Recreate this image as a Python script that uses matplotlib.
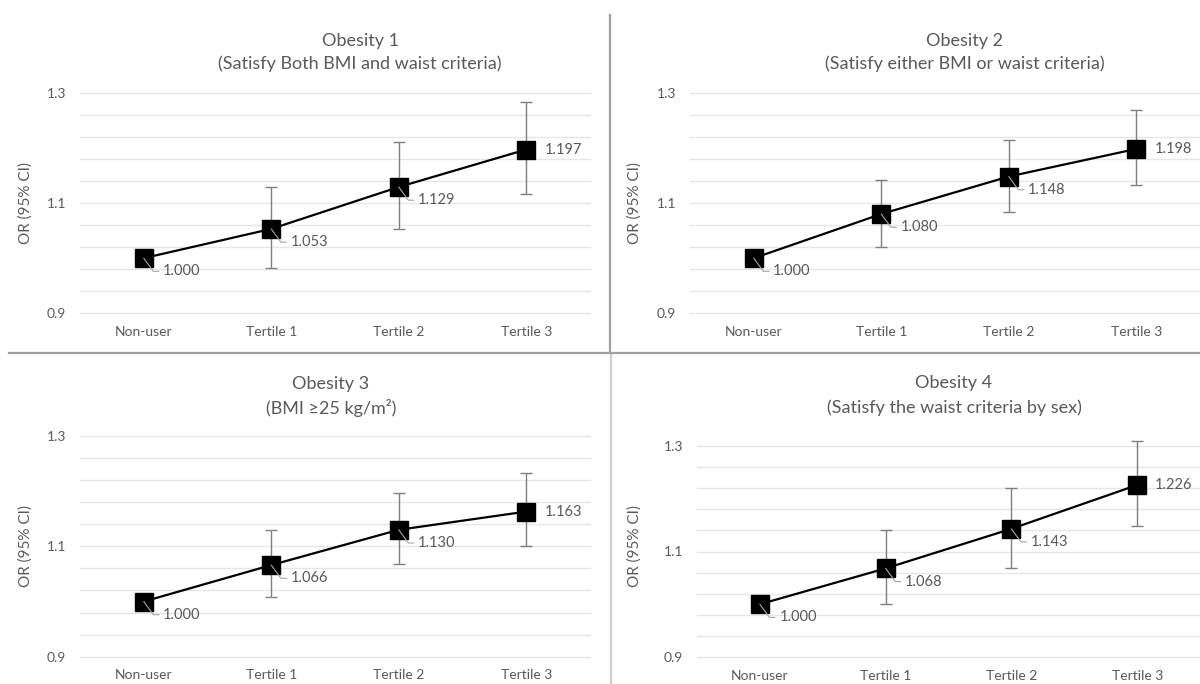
import matplotlib
matplotlib.use("Agg")
import matplotlib.pyplot as plt
from matplotlib.ticker import FixedLocator, FormatStrFormatter
from matplotlib.lines import Line2D
import numpy as np

plt.rcParams['font.family'] = ['Lato', 'DejaVu Sans']

# ---------------- data ----------------
categories = ["Non-user", "Tertile 1", "Tertile 2", "Tertile 3"]

titles = [
    ("Obesity 1", "(Satisfy Both BMI and waist criteria)"),
    ("Obesity 2", "(Satisfy either BMI or waist criteria)"),
    ("Obesity 3", "(BMI \u226525 kg/m\u00b2)"),
    ("Obesity 4", "(Satisfy the waist criteria by sex)"),
]

or_obesity1 = [1.000, 1.053, 1.129, 1.197]
lo_obesity1 = [1.000, 0.982, 1.053, 1.116]
hi_obesity1 = [1.000, 1.129, 1.210, 1.284]

or_obesity2 = [1.000, 1.080, 1.148, 1.198]
lo_obesity2 = [1.000, 1.021, 1.084, 1.132]
hi_obesity2 = [1.000, 1.142, 1.214, 1.269]

or_obesity3 = [1.000, 1.066, 1.130, 1.163]
lo_obesity3 = [1.000, 1.008, 1.068, 1.100]
hi_obesity3 = [1.000, 1.129, 1.197, 1.233]

or_obesity4 = [1.000, 1.068, 1.143, 1.226]
lo_obesity4 = [1.000, 1.000, 1.069, 1.148]
hi_obesity4 = [1.000, 1.140, 1.220, 1.310]

ytick_labels = [0.9, 1.1, 1.3]
grid_step = 0.04
y_label = "OR (95% CI)"

series = [
    (or_obesity1, lo_obesity1, hi_obesity1),
    (or_obesity2, lo_obesity2, hi_obesity2),
    (or_obesity3, lo_obesity3, hi_obesity3),
    (or_obesity4, lo_obesity4, hi_obesity4),
]

# ---------------- layout / style ----------------
W, H = 1200, 684
fig = plt.figure(figsize=(W / 100, H / 100), dpi=100)

def px_rect(x0, x1, ytop, ybot):
    return [x0 / W, 1 - ybot / H, (x1 - x0) / W, (ybot - ytop) / H]

axes_rects = [
    px_rect(80, 590, 92.7, 313.3),
    px_rect(690, 1200, 92.7, 313.3),
    px_rect(80, 590, 436, 656.7),
    px_rect(697, 1200, 446, 657),
]
title_pos = [(360, 41, 64), (965, 41, 64), (331, 384, 408), (954, 383, 408)]
ylabel_pos = [(-0.092, 0.5), (-0.094, 0.5), (-0.092, 0.5), (-0.109, 0.526)]

TXT = "#595959"
GRID = "#e6e6e6"
ERR = "#7f7f7f"
LEAD = "#a6a6a6"

x = np.arange(len(categories))

for i, (rect, (vals, lo, hi)) in enumerate(zip(axes_rects, series)):
    ax = fig.add_axes(rect)
    vals = np.array(vals); lo = np.array(lo); hi = np.array(hi)
    ax.set_xlim(-0.5, len(categories) - 0.5)
    ax.set_ylim(0.9, 1.3)
    for s in ax.spines.values():
        s.set_visible(False)
    ax.yaxis.set_major_locator(FixedLocator(ytick_labels))
    ax.yaxis.set_major_formatter(FormatStrFormatter('%.1f'))
    grid_vals = np.round(np.arange(0.9, 1.3 + 1e-9, grid_step), 2)
    for g in grid_vals:
        ax.axhline(g, color=GRID, lw=1.0, zorder=0, clip_on=False)
    ax.set_xticks(x)
    ax.set_xticklabels(categories)
    ax.tick_params(axis='both', length=0, colors=TXT, labelsize=10)
    ax.tick_params(axis='x', pad=9)
    ax.tick_params(axis='y', pad=10)
    ax.set_ylabel(y_label, color=TXT, fontsize=11)
    ax.yaxis.set_label_coords(*ylabel_pos[i])

    ax.errorbar(x, vals, yerr=[vals - lo, hi - vals], fmt='none', ecolor=ERR,
                elinewidth=1.0, capsize=4, capthick=1.0, zorder=2, clip_on=False)
    ax.plot(x, vals, color='black', lw=1.6, zorder=3, clip_on=False)
    ax.plot(x, vals, ls='none', marker='s', ms=13, mfc='black', mec='black',
            zorder=4, clip_on=False)

    for j, v in enumerate(vals):
        lab = f"{v:.3f}"
        if j == len(vals) - 1:
            ax.annotate(lab, (x[j], v), xytext=(13, 0), textcoords='offset points',
                        ha='left', va='center', color=TXT, fontsize=10.5, zorder=6)
        else:
            ax.annotate(lab, (x[j], v), xytext=(14, -9.5), textcoords='offset points',
                        ha='left', va='center', color=TXT, fontsize=10.5, zorder=6,
                        arrowprops=dict(arrowstyle='-', color=LEAD, lw=0.8,
                                        shrinkA=1, shrinkB=0,
                                        connectionstyle='angle,angleA=0,angleB=-54'))

    tx, ty1, ty2 = title_pos[i]
    fig.text(tx / W, 1 - ty1 / H, titles[i][0], ha='center', va='center',
             color=TXT, fontsize=13)
    fig.text(tx / W, 1 - ty2 / H, titles[i][1], ha='center', va='center',
             color=TXT, fontsize=13)

# panel divider lines
fig.add_artist(Line2D([610 / W, 610 / W], [1 - 15 / H, 1 - 353 / H],
                      transform=fig.transFigure, color="#a0a0a0", lw=1.6))
fig.add_artist(Line2D([611 / W, 611 / W], [1 - 353 / H, 0],
                      transform=fig.transFigure, color="#cfcfcf", lw=1.6))
fig.add_artist(Line2D([9 / W, 1], [1 - 353 / H, 1 - 353 / H],
                      transform=fig.transFigure, color="#a0a0a0", lw=1.6))

fig.savefig("out.png", dpi=100)
